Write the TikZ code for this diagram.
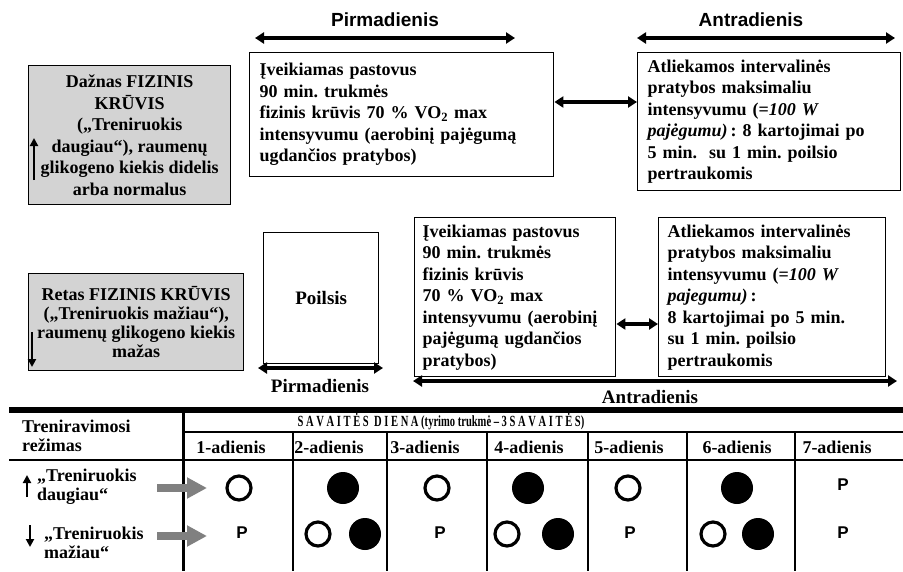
\documentclass[tikz,border=0pt]{standalone}
\usepackage{fontspec}
\usepackage{graphicx}
\setmainfont{Liberation Serif}
\newfontfamily\labelsans{Liberation Sans}
\usetikzlibrary{arrows.meta}
\definecolor{boxgray}{RGB}{211,211,211}
\definecolor{pointgray}{RGB}{128,128,128}
\frenchspacing

\begin{document}
\begin{tikzpicture}[x=1pt, y=-1pt,
  box/.style={draw, line width=1.4pt, anchor=north west, align=left, inner xsep=10pt,
    font=\fontsize{18}{21.5}\selectfont\bfseries},
  greybox/.style={box, fill=boxgray, align=center, inner xsep=2pt},
  span/.style={line width=3.5pt, {Triangle[length=9pt,width=11pt]}-{Triangle[length=9pt,width=11pt]}},
  updown/.style={line width=2.2pt, -{Triangle[length=8pt,width=8pt]}},
  daysans/.style={font=\fontsize{19}{19}\selectfont\labelsans\bfseries},
  dayserif/.style={font=\fontsize{19}{19}\selectfont\bfseries},
  cell/.style={font=\fontsize{18}{19}\selectfont\bfseries, align=left, inner sep=0pt},
  rest/.style={font=\fontsize{17}{17}\selectfont\labelsans\bfseries},
  lighton/.style={circle, draw, line width=3.2pt, minimum size=24pt, inner sep=0pt},
  hardon/.style={circle, fill, minimum size=32pt, inner sep=0pt},
  pointer/.style={pointgray, line width=8pt, -{Triangle[length=20pt,width=20pt]}},
  rule/.style={line width=1.4pt},
]
  \useasboundingbox (0,0) rectangle (903,571);

  % upper scheme: more training
  \node[daysans] (mon) at (385,20) {Pirmadienis};
  \node[daysans] (tue) at (751,20) {Antradienis};
  \coordinate (mon-l) at (255,38);
  \coordinate (mon-r) at (515,38);
  \coordinate (tue-l) at (637,38);
  \coordinate (tue-r) at (895,38);
  \draw[span] (mon-l) -- (mon-r);
  \draw[span] (tue-l) -- (tue-r);

  \node[greybox, minimum width=202pt, minimum height=139pt] (busy) at (28,65)
    {Dažnas FIZINIS\\KRŪVIS\\(„Treniruokis\\daugiau“), raumenų\\glikogeno kiekis didelis\\arba normalus};
  \coordinate (busy-a) at (34,180);
  \coordinate (busy-b) at (34,138);
  \draw[updown] (busy-a) -- (busy-b);

  \node[box, minimum width=304pt, minimum height=124pt, text width=284pt] (steady1) at (249,52)
    {Įveikiamas pastovus\\90 min. trukmės\\fizinis krūvis 70 \% VO\textsubscript{2} max\\intensyvumu (aerobinį pajėgumą\\ugdančios pratybos)};
  \node[box, minimum width=263pt, minimum height=138pt, text width=243pt] (sprint1) at (637,52)
    {Atliekamos intervalinės\\pratybos maksimaliu\\intensyvumu (=\textit{100 W}\\\textit{pajėgumu)}\,: 8 kartojimai po\\5 min.\ \ su 1 min. poilsio\\pertraukomis};
  \draw[span] (steady1.east |- 0,102) -- (sprint1.west |- 0,102);

  % lower scheme: less training
  \node[greybox, minimum width=215pt, minimum height=97pt,
    font=\fontsize{18}{19}\selectfont\bfseries] (calm) at (28,273)
    {Retas FIZINIS KRŪVIS\\(„Treniruokis mažiau“),\\raumenų glikogeno kiekis\\mažas};
  \coordinate (calm-a) at (32,332);
  \coordinate (calm-b) at (32,367);
  \draw[updown] (calm-a) -- (calm-b);

  \node[box, align=center, inner xsep=2pt, minimum width=115pt, minimum height=131pt,
    font=\fontsize{19}{19}\selectfont\bfseries] (rest1) at (263,232) {Poilsis};
  \coordinate (mon2-l) at (258,368);
  \coordinate (mon2-r) at (383,368);
  \draw[span] (mon2-l) -- (mon2-r);
  \node[dayserif] (mon2) at (320,386) {Pirmadienis};

  \node[box, inner xsep=8pt, minimum width=201pt, minimum height=159pt, text width=185pt] (steady2) at (414,217)
    {Įveikiamas pastovus\\90 min. trukmės\\fizinis krūvis\\70 \% VO\textsubscript{2} max\\intensyvumu (aerobinį\\pajėgumą ugdančios\\pratybos)};
  \node[box, inner xsep=9pt, minimum width=227pt, minimum height=159pt, text width=209pt] (sprint2) at (658,217)
    {Atliekamos intervalinės\\pratybos maksimaliu\\intensyvumu (=\textit{100 W}\\\textit{pajegumu)}\,:\\8 kartojimai po 5 min.\\su 1 min. poilsio\\pertraukomis};
  \draw[span] (steady2.east |- 0,324) -- (sprint2.west |- 0,324);
  \coordinate (tue2-l) at (413,381);
  \coordinate (tue2-r) at (897,381);
  \draw[span] (tue2-l) -- (tue2-r);
  \node[dayserif] (tue2) at (650,397) {Antradienis};

  % week table
  \draw[line width=6pt] (9,410) -- (903,410);
  \draw[line width=3pt] (183,410) -- (183,571);
  \draw[rule] (183,432) -- (903,432);
  \draw[rule] (9,460) -- (903,460);
  \foreach \x in {293,387,487,588,687,795}
    \draw[rule] (\x,432) -- (\x,571);

  \node[font=\fontsize{15.5}{15.5}\selectfont\bfseries] (week) at (441,422)
    {\scalebox{0.68}[1]{S A V A I T Ė S\ \ D I E N A (tyrimo trukmė – 3 S A V A I T Ė S)}};
  \node[cell, anchor=west] (mode) at (22,436) {Treniravimosi\\režimas};
  \foreach \x/\d in {231/1,329/2,425/3,529/4,629/5,737/6,837/7}
    \node[cell, font=\fontsize{18}{18}\selectfont\bfseries] (day\d) at (\x,447) {\d-adienis};

  \node[cell, anchor=west] (more) at (37,487) {„Treniruokis\\daugiau“};
  \coordinate (more-a) at (27,497);
  \coordinate (more-b) at (27,475);
  \draw[updown] (more-a) -- (more-b);
  \node[cell, anchor=west] (less) at (44,543) {„Treniruokis\\mažiau“};
  \coordinate (less-a) at (30,525);
  \coordinate (less-b) at (30,547);
  \draw[updown] (less-a) -- (less-b);

  \coordinate (more-tail) at (157,488);
  \coordinate (more-head) at (207,488);
  \coordinate (less-tail) at (157,536);
  \coordinate (less-head) at (207,536);
  \draw[pointer] (more-tail) -- (more-head);
  \draw[pointer] (less-tail) -- (less-head);

  % sessions
  \node[lighton] (a1) at (239,488) {};
  \node[hardon] (a2) at (343,488) {};
  \node[lighton] (a3) at (437,488) {};
  \node[hardon] (a4) at (528,488) {};
  \node[lighton] (a5) at (628,488) {};
  \node[hardon] (a6) at (737,488) {};
  \node[rest] (a7) at (843,485) {P};

  \node[rest] (b1) at (242,533) {P};
  \node[lighton] (b2l) at (318,534) {};
  \node[hardon] (b2h) at (365,534) {};
  \node[rest] (b3) at (440,533) {P};
  \node[lighton] (b4l) at (507,534) {};
  \node[hardon] (b4h) at (558,534) {};
  \node[rest] (b5) at (630,533) {P};
  \node[lighton] (b6l) at (713,534) {};
  \node[hardon] (b6h) at (758,534) {};
  \node[rest] (b7) at (843,533) {P};
\end{tikzpicture}
\end{document}
